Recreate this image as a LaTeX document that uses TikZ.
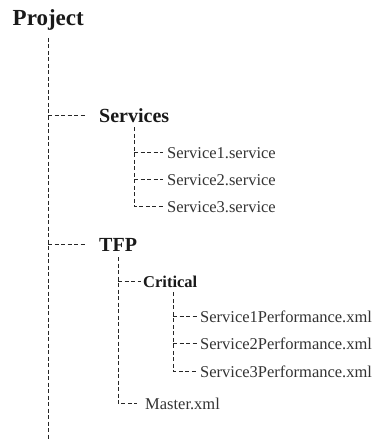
\documentclass[tikz,border=0pt]{standalone}
\usepackage{fontspec}
\setmainfont{Liberation Serif}
\usepackage{tikz}
\usetikzlibrary{positioning,calc}

\begin{document}
\begin{tikzpicture}[x=1pt, y=-1pt,
    tree/.style={draw=black!85, line width=0.9pt, dash pattern=on 4pt off 2.5pt},
    root/.style={inner sep=0pt, anchor=base west, text=black!90, font=\fontsize{23}{27}\selectfont\bfseries},
    folder/.style={inner sep=0pt, anchor=base west, text=black!90, font=\fontsize{20}{24}\selectfont\bfseries},
    subfolder/.style={inner sep=0pt, anchor=base west, text=black!90, font=\fontsize{16.5}{20}\selectfont\bfseries},
    leaf/.style={inner sep=0pt, anchor=base west, text=black!80, font=\fontsize{16.5}{20}\selectfont}]
    \useasboundingbox (0,0) rectangle (376,441);

    % Root and main trunk
    \node[root] (proj) at (12.5,26) {Project};
    \coordinate (trunk) at (48,38);
    \coordinate (trunkend) at (48,441);
    \draw[tree] (trunk) -- (trunkend);

    % Services folder
    \node[folder] (serv) at (99,122) {Services};
    \node[leaf] (s1) at (167,158) {Service1.service};
    \node[leaf] (s2) at (167,185) {Service2.service};
    \node[leaf] (s3) at (167,212) {Service3.service};
    \draw[tree] (trunk |- serv.west) -- ([xshift=-14pt]serv.west);
    \draw[tree] ([yshift=-5pt]serv.south) -- (serv.south |- s3.west) -- ([xshift=-4pt]s3.west);
    \draw[tree] (serv.south |- s1.west) -- ([xshift=-4pt]s1.west);
    \draw[tree] (serv.south |- s2.west) -- ([xshift=-4pt]s2.west);

    % TFP folder
    \node[folder] (tfp) at (99,251) {TFP};
    \node[subfolder] (crit) at (143,287) {Critical};
    \node[leaf] (p1) at (200,322) {Service1Performance.xml};
    \node[leaf] (p2) at (200,349) {Service2Performance.xml};
    \node[leaf] (p3) at (200,377) {Service3Performance.xml};
    \node[leaf] (master) at (145,409) {Master.xml};
    \draw[tree] (trunk |- tfp.west) -- ([xshift=-13pt]tfp.west);
    \draw[tree] ([yshift=-6pt]tfp.south) -- (tfp.south |- master.west) -- ([xshift=-8pt]master.west);
    \draw[tree] (tfp.south |- crit.west) -- ([xshift=-2pt]crit.west);
    \draw[tree] ([xshift=3pt,yshift=-5pt]crit.south) -- ([xshift=3pt]crit.south |- p3.west) -- ([xshift=-2pt]p3.west);
    \draw[tree] ([xshift=3pt]crit.south |- p1.west) -- ([xshift=-2pt]p1.west);
    \draw[tree] ([xshift=3pt]crit.south |- p2.west) -- ([xshift=-2pt]p2.west);
\end{tikzpicture}
\end{document}
